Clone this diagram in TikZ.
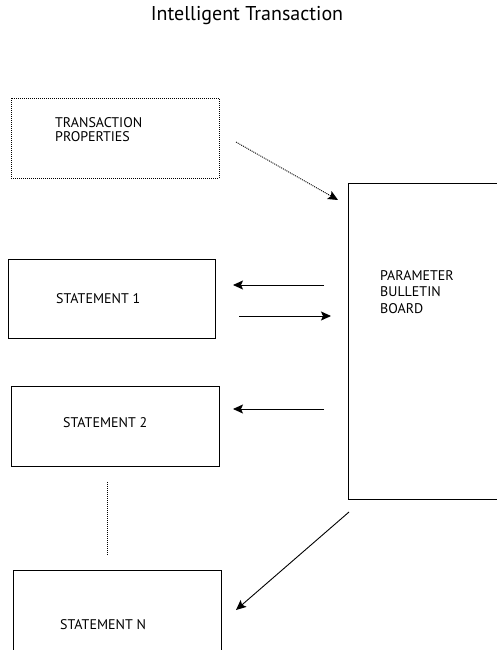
\documentclass[tikz,border=0pt]{standalone}
\usepackage{fontspec}
\setmainfont{PT Sans}
\usetikzlibrary{arrows.meta,calc}
\begin{document}
\begin{tikzpicture}[x=1pt,y=-1pt,
  box/.style={draw,line width=0.9pt,rectangle,inner sep=0pt,outer sep=0pt,anchor=north west},
  dotbox/.style={box,line width=0.8pt,dash pattern=on 1pt off 1pt},
  lbl/.style={anchor=base west,inner sep=0pt,font=\fontsize{14}{16}\selectfont,align=left},
  arr/.style={line width=0.9pt,-{Stealth[length=10pt,width=9pt,inset=2pt]}},
  dotarr/.style={arr,dash pattern=on 1pt off 1pt}]
\useasboundingbox (0,0) rectangle (497,650);
\clip (0,0) rectangle (497,650);
% title
\node[anchor=base,inner sep=0pt,font=\fontsize{20}{24}\selectfont] (title) at (247,21) {Intelligent Transaction};
% boxes
\node[dotbox,minimum width=208pt,minimum height=80pt] (tp) at (11,98) {};
\node[box,minimum width=180pt,minimum height=316pt] (board) at (348,183) {};
\node[box,minimum width=207pt,minimum height=79pt] (s1) at (8,259) {};
\node[box,minimum width=208pt,minimum height=80pt] (s2) at (11,386) {};
\node[box,minimum width=208pt,minimum height=110pt] (sn) at (13,570) {};
% labels (base = last line)
\node[lbl,font=\fontsize{14}{14.5}\selectfont] (tptext) at (55,142) {TRANSACTION\\PROPERTIES};
\node[lbl,font=\fontsize{14}{16.5}\selectfont] (bbtext) at (380,313) {PARAMETER\\BULLETIN\\BOARD};
\node[lbl] (s1text) at (56,303) {STATEMENT 1};
\node[lbl] (s2text) at (63,427) {STATEMENT 2};
\node[lbl] (sntext) at (60,629) {STATEMENT N};
% connector ends
\coordinate (tpA) at (236,142);
\coordinate (bbA) at (338,200);
\coordinate (b1) at (324,285);
\coordinate (s1in) at (233,285);
\coordinate (s1out) at (239,316);
\coordinate (b2) at (331,316);
\coordinate (b3) at (324,409);
\coordinate (s2in) at (233,409);
\coordinate (dA) at (107,482);
\coordinate (dB) at (107,556);
\coordinate (bN) at (349,512);
\coordinate (snin) at (236,610);
% connectors
\draw[dotarr] (tpA) -- (bbA);
\draw[arr] (b1) -- (s1in);
\draw[arr] (s1out) -- (b2);
\draw[arr] (b3) -- (s2in);
\draw[line width=0.8pt,dash pattern=on 1pt off 1pt] (dA) -- (dB);
\draw[arr] (bN) -- (snin);
\end{tikzpicture}
\end{document}
